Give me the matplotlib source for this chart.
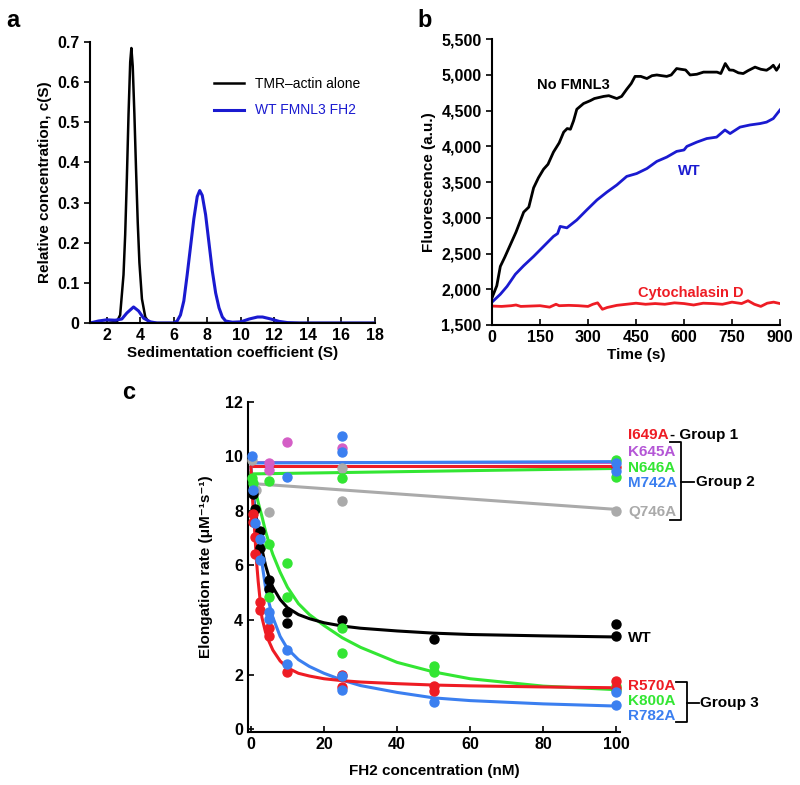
import matplotlib
matplotlib.use('Agg')
import matplotlib.pyplot as plt

plt.rcParams['font.family'] = ['Liberation Sans', 'DejaVu Sans']
plt.rcParams['font.weight'] = 'bold'

# ---------------- panel a: sedimentation velocity ----------------
sed_actin_x = [1.0, 2.0, 2.6, 2.8, 3.0, 3.1, 3.2, 3.3, 3.4, 3.47, 3.55, 3.65, 3.75, 3.85,
               3.95, 4.1, 4.3, 4.5, 4.8, 6.0, 10.0, 18.0]
sed_actin_y = [0.0, 0.0, 0.003, 0.02, 0.12, 0.22, 0.36, 0.52, 0.65, 0.685, 0.64, 0.52, 0.38,
               0.25, 0.15, 0.06, 0.015, 0.003, 0.0, 0.0, 0.0, 0.0]
sed_fh2_x = [1.0, 1.5, 2.0, 2.5, 2.9, 3.2, 3.6, 3.9, 4.2, 4.6, 5.0, 6.0, 6.2, 6.4, 6.6, 6.8,
             7.0, 7.2, 7.4, 7.55, 7.7, 7.9, 8.1, 8.3, 8.5, 8.7, 8.9, 9.1, 9.5, 10.0, 10.5,
             11.0, 11.3, 11.8, 12.3, 12.8, 13.5, 18.0]
sed_fh2_y = [0.0, 0.005, 0.008, 0.007, 0.01, 0.025, 0.04, 0.03, 0.012, 0.003, 0.0, 0.0,
             0.005, 0.02, 0.055, 0.12, 0.19, 0.26, 0.315, 0.33, 0.318, 0.27, 0.2, 0.13,
             0.075, 0.038, 0.015, 0.005, 0.002, 0.003, 0.01, 0.015, 0.015, 0.01, 0.004,
             0.001, 0.0, 0.0]

# ---------------- panel b: TMR-actin fluorescence ----------------
time_nofmnl = [0, 15, 26, 40, 57, 75, 99, 115, 130, 145, 161, 175, 192, 210, 224, 235, 245,
               255, 265, 286, 307, 320, 349, 365, 390, 405, 421, 435, 447, 465, 484, 500,
               515, 530, 546, 560, 577, 590, 605, 619, 640, 661, 680, 703, 715, 729, 742,
               754, 770, 785, 800, 822, 840, 858, 870, 879, 889, 900]
fluo_nofmnl = [1880, 2050, 2320, 2450, 2620, 2800, 3080, 3150, 3420, 3560, 3680, 3750, 3920,
               4050, 4200, 4250, 4240, 4360, 4520, 4600, 4640, 4670, 4700, 4710, 4670, 4700,
               4800, 4880, 4980, 4980, 4950, 4990, 5000, 4990, 4980, 5000, 5090, 5080, 5070,
               5000, 5010, 5040, 5040, 5040, 5020, 5160, 5070, 5066, 5030, 5020, 5060, 5110,
               5080, 5066, 5100, 5136, 5066, 5140]
time_wt = [0, 26, 47, 73, 99, 130, 161, 192, 205, 213, 234, 265, 296, 328, 359, 390, 421,
           452, 484, 515, 546, 577, 600, 609, 640, 671, 702, 728, 744, 775, 806, 838, 858,
           879, 900]
fluo_wt = [1820, 1930, 2040, 2210, 2330, 2460, 2600, 2740, 2780, 2880, 2860, 2970, 3110,
           3250, 3360, 3460, 3580, 3620, 3690, 3790, 3850, 3930, 3950, 4000, 4060, 4110,
           4130, 4230, 4180, 4270, 4300, 4320, 4340, 4390, 4510]
time_cytd = [0, 30, 60, 75, 90, 120, 150, 165, 180, 200, 210, 240, 270, 300, 315, 330, 345,
             360, 390, 420, 450, 480, 510, 540, 570, 600, 630, 660, 690, 720, 750, 780, 800,
             820, 840, 860, 880, 900]
fluo_cytd = [1765, 1760, 1770, 1780, 1760, 1765, 1770, 1760, 1750, 1790, 1770, 1775, 1770,
             1760, 1790, 1810, 1720, 1745, 1775, 1790, 1805, 1790, 1800, 1790, 1810, 1800,
             1780, 1805, 1800, 1790, 1820, 1800, 1840, 1790, 1760, 1805, 1820, 1800]

# ---------------- panel c: elongation rate vs FH2 ----------------
fit_x = [0, 0.5, 1, 1.5, 2, 3, 4, 5, 6, 8, 10, 13, 16, 20, 25, 30, 40, 50, 60, 80, 100]
fit_wt = [9.3, 8.7, 8.2, 7.75, 7.3, 6.6, 6.0, 5.55, 5.2, 4.75, 4.45, 4.2, 4.05, 3.9, 3.78,
          3.7, 3.6, 3.52, 3.47, 3.42, 3.38]
fit_r570a = [9.6, 8.3, 7.3, 6.2, 5.4, 4.1, 3.55, 3.2, 2.9, 2.5, 2.25, 2.05, 1.95, 1.85,
             1.78, 1.73, 1.67, 1.62, 1.59, 1.55, 1.52]
fit_r782a = [9.6, 8.8, 8.1, 7.5, 7.0, 6.1, 5.2, 4.6, 4.1, 3.4, 2.95, 2.55, 2.3, 2.05, 1.8,
             1.6, 1.35, 1.15, 1.05, 0.93, 0.85]
fit_k800a = [9.4, 9.15, 8.9, 8.6, 8.3, 7.8, 7.25, 6.8, 6.4, 5.75, 5.2, 4.6, 4.2, 3.8, 3.35,
             3.0, 2.45, 2.1, 1.85, 1.58, 1.45]
flat_x = [0, 100]
fit_i649a = [9.65, 9.65]
fit_k645a = [9.8, 9.8]
fit_m742a = [9.75, 9.8]
fit_n646a = [9.35, 9.55]
fit_q746a = [9.0, 8.05]

pts_wt_x = [0.5, 1, 2.5, 2.5, 5, 5, 10, 10, 25, 50, 100, 100]
pts_wt_y = [8.6, 8.05, 7.25, 6.65, 5.45, 5.15, 4.3, 3.9, 4.0, 3.3, 3.85, 3.4]
pts_r570a_x = [0.5, 0.5, 1, 1, 2.5, 2.5, 5, 5, 10, 25, 25, 50, 50, 100, 100]
pts_r570a_y = [7.9, 7.6, 7.05, 6.4, 4.65, 4.35, 3.7, 3.4, 2.1, 2.0, 1.55, 1.6, 1.4, 1.75, 1.5]
pts_r782a_x = [0.5, 1, 2.5, 2.5, 5, 5, 10, 10, 25, 25, 50, 100, 100]
pts_r782a_y = [8.75, 7.55, 6.95, 6.2, 4.3, 4.05, 2.9, 2.4, 1.95, 1.45, 1.0, 1.35, 0.9]
pts_k800a_x = [0.3, 0.5, 5, 5, 10, 10, 25, 25, 50, 50, 100, 100]
pts_k800a_y = [9.2, 9.0, 6.8, 4.85, 6.1, 4.85, 3.7, 2.8, 2.3, 2.1, 1.6, 1.45]
pts_m742a_x = [0.2, 10, 25, 25, 100, 100]
pts_m742a_y = [10.0, 9.25, 10.75, 10.15, 9.75, 9.45]
pts_k645a_x = [5, 5, 10, 25]
pts_k645a_y = [9.75, 9.5, 10.5, 10.3]
pts_n646a_x = [5, 25, 100, 100]
pts_n646a_y = [9.1, 9.2, 9.85, 9.25]
pts_i649a_x = [100]
pts_i649a_y = [9.62]
pts_q746a_x = [0.2, 1.5, 5, 25, 25, 100]
pts_q746a_y = [9.85, 8.75, 7.95, 9.55, 8.35, 8.0]

RED = '#ee1c24'
GREEN = '#33e633'
BLUE = '#3b7ff0'
MAGENTA = '#d45ec6'
GREY = '#aaaaaa'
DARKBLUE = '#1a1ad0'

fig = plt.figure(figsize=(8, 7.85), dpi=100)

# ---- a ----
ax_a = fig.add_axes([0.1125, 0.5885, 0.356, 0.358])
ax_a.plot(sed_actin_x, sed_actin_y, color='black', lw=1.8)
ax_a.plot(sed_fh2_x, sed_fh2_y, color=DARKBLUE, lw=2.2)
ax_a.set_xlim(1, 18)
ax_a.set_ylim(0, 0.7)
ax_a.set_xticks(range(2, 19, 2))
ax_a.set_yticks([0, 0.1, 0.2, 0.3, 0.4, 0.5, 0.6, 0.7])
ax_a.set_yticklabels(['0', '0.1', '0.2', '0.3', '0.4', '0.5', '0.6', '0.7'])
ax_a.tick_params(axis='x', direction='in', length=4, width=1.2, labelsize=11.5)
ax_a.tick_params(axis='y', direction='out', length=4, width=1.2, labelsize=11.5)
ax_a.set_xlabel('Sedimentation coefficient (S)', fontsize=11, fontweight='bold', labelpad=2)
ax_a.set_ylabel('Relative concentration, c(S)', fontsize=11, fontweight='bold', labelpad=4)
leg = ax_a.legend(['TMR\u2013actin alone', 'WT FMNL3 FH2'], loc='upper left',
                  bbox_to_anchor=(0.39, 0.92), frameon=False,
                  handlelength=2.2, labelspacing=0.9, prop={'weight': 'normal', 'size': 10})
leg.get_texts()[1].set_color(DARKBLUE)
fig.text(0.008, 0.988, 'a', fontsize=17, fontweight='bold', va='top')

# ---- b ----
ax_b = fig.add_axes([0.615, 0.586, 0.36, 0.364])
ax_b.plot(time_nofmnl, fluo_nofmnl, color='black', lw=2)
ax_b.plot(time_wt, fluo_wt, color=DARKBLUE, lw=2)
ax_b.plot(time_cytd, fluo_cytd, color=RED, lw=2)
ax_b.set_xlim(0, 900)
ax_b.set_ylim(1500, 5500)
ax_b.set_xticks(range(0, 901, 150))
ax_b.set_yticks(range(1500, 5501, 500))
ax_b.set_yticklabels([f'{v:,}' for v in range(1500, 5501, 500)])
ax_b.tick_params(axis='x', direction='in', length=4, width=1.2, labelsize=11.5)
ax_b.tick_params(axis='y', direction='out', length=4, width=1.2, labelsize=11.5)
ax_b.set_xlabel('Time (s)', fontsize=11, fontweight='bold', labelpad=2)
ax_b.set_ylabel('Fluorescence (a.u.)', fontsize=11, fontweight='bold', labelpad=4)
ax_b.text(140, 4860, 'No FMNL3', fontsize=10.5, fontweight='bold', va='center')
ax_b.text(580, 3660, 'WT', color=DARKBLUE, fontsize=10.5, fontweight='bold', va='center')
ax_b.text(455, 1950, 'Cytochalasin D', color=RED, fontsize=10.5, fontweight='bold', va='center')
fig.text(0.522, 0.988, 'b', fontsize=17, fontweight='bold', va='top')

# ---- c ----
ax_c = fig.add_axes([0.31, 0.0675, 0.465, 0.421])
lw = 2.2
ax_c.plot(flat_x, fit_q746a, color=GREY, lw=lw)
ax_c.plot(flat_x, fit_n646a, color=GREEN, lw=lw)
ax_c.plot(flat_x, fit_i649a, color=RED, lw=lw)
ax_c.plot(flat_x, fit_k645a, color=MAGENTA, lw=lw)
ax_c.plot(flat_x, fit_m742a, color=BLUE, lw=lw)
ax_c.plot(fit_x, fit_k800a, color=GREEN, lw=lw)
ax_c.plot(fit_x, fit_wt, color='black', lw=lw)
ax_c.plot(fit_x, fit_r782a, color=BLUE, lw=lw)
ax_c.plot(fit_x, fit_r570a, color=RED, lw=lw)
ms = 42
ax_c.scatter(pts_q746a_x, pts_q746a_y, s=ms, color=GREY, zorder=3, clip_on=False)
ax_c.scatter(pts_k645a_x, pts_k645a_y, s=ms, color=MAGENTA, zorder=3, clip_on=False)
ax_c.scatter(pts_n646a_x, pts_n646a_y, s=ms, color=GREEN, zorder=3, clip_on=False)
ax_c.scatter(pts_i649a_x, pts_i649a_y, s=ms, color=RED, zorder=3, clip_on=False)
ax_c.scatter(pts_m742a_x, pts_m742a_y, s=ms, color=BLUE, zorder=3, clip_on=False)
ax_c.scatter(pts_wt_x, pts_wt_y, s=ms, color='black', zorder=3, clip_on=False)
ax_c.scatter(pts_k800a_x, pts_k800a_y, s=ms, color=GREEN, zorder=3, clip_on=False)
ax_c.scatter(pts_r570a_x, pts_r570a_y, s=ms, color=RED, zorder=3, clip_on=False)
ax_c.scatter(pts_r782a_x, pts_r782a_y, s=ms, color=BLUE, zorder=3, clip_on=False)
ax_c.set_xlim(-0.8, 101)
ax_c.set_ylim(-0.1, 12)
ax_c.set_xticks(range(0, 101, 20))
ax_c.set_yticks(range(0, 13, 2))
ax_c.tick_params(direction='in', length=4, width=1.2, labelsize=11.5)
ax_c.set_xlabel('FH2 concentration (nM)', fontsize=11, fontweight='bold', labelpad=9)
ax_c.set_ylabel('Elongation rate (\u03bcM\u207b\u00b9s\u207b\u00b9)', fontsize=11,
                fontweight='bold', labelpad=9)
fig.text(0.1525, 0.4994, 'c', fontsize=17, fontweight='bold', va='center')

# right-hand labels
lab_kw = dict(fontsize=11, fontweight='bold', va='center', clip_on=False)
ax_c.text(103.3, 10.76, 'I649A', color=RED, **lab_kw)
ax_c.text(103.3, 10.16, 'K645A', color='#b456d6', **lab_kw)
ax_c.text(103.3, 9.58, 'N646A', color=GREEN, **lab_kw)
ax_c.text(103.3, 9.02, 'M742A', color=BLUE, **lab_kw)
ax_c.text(103.3, 7.96, 'Q746A', color=GREY, **lab_kw)
ax_c.text(103.3, 3.35, 'WT', color='black', **lab_kw)
ax_c.text(103.3, 1.60, 'R570A', color=RED, **lab_kw)
ax_c.text(103.3, 1.03, 'K800A', color=GREEN, **lab_kw)
ax_c.text(103.3, 0.47, 'R782A', color=BLUE, **lab_kw)
ax_c.text(114.8, 10.78, '- Group 1', color='black', **lab_kw)
ax_c.text(121.7, 9.05, 'Group 2', color='black', **lab_kw)
ax_c.text(123.0, 0.98, 'Group 3', color='black', **lab_kw)
br_kw = dict(color='black', lw=1.3, clip_on=False)
ax_c.plot([114.8, 117.8, 117.8, 114.8], [10.5, 10.5, 7.68, 7.68], **br_kw)
ax_c.plot([117.8, 121.3], [9.05, 9.05], **br_kw)
ax_c.plot([116.2, 119.2, 119.2, 116.2], [1.72, 1.72, 0.28, 0.28], **br_kw)
ax_c.plot([119.2, 122.6], [0.98, 0.98], **br_kw)

for ax in (ax_a, ax_b, ax_c):
    for side in ('top', 'right'):
        ax.spines[side].set_visible(False)
    for side in ('left', 'bottom'):
        ax.spines[side].set_linewidth(1.5)

fig.savefig('out.png', dpi=100)
